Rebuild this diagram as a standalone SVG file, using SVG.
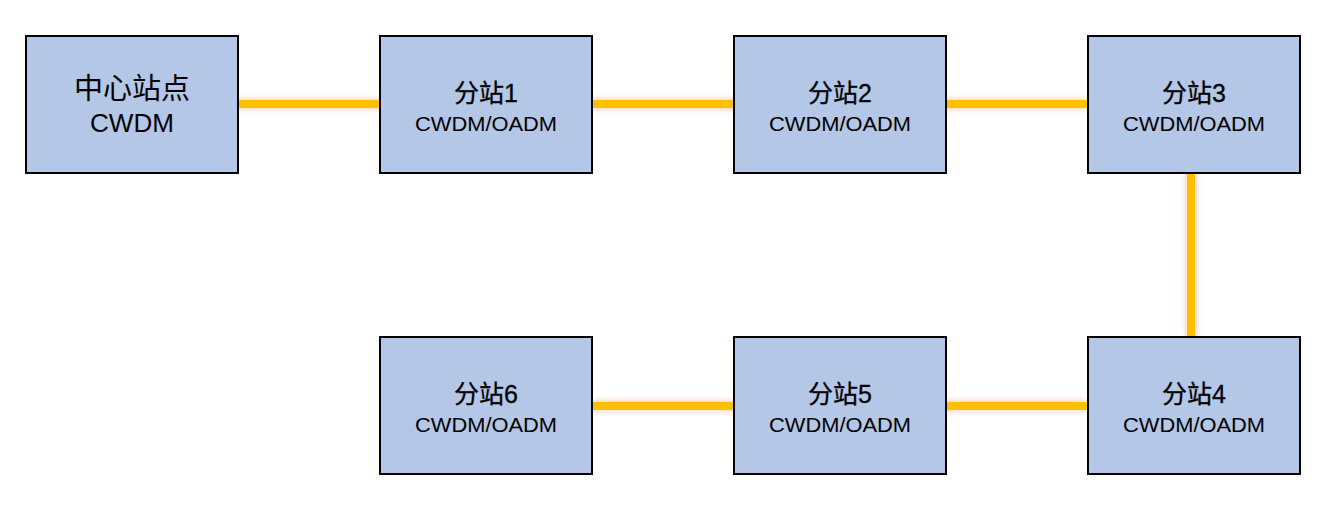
<svg xmlns="http://www.w3.org/2000/svg" width="1332" height="510" viewBox="0 0 1332 510">
<defs>
<filter id="glow" x="-20%" y="-20%" width="140%" height="140%">
<feGaussianBlur stdDeviation="2.5"/>
</filter>
</defs>
<style>
.box{fill:#B4C7E7;stroke:#000;stroke-width:2}
.glow{stroke:#F9B98A;stroke-width:12;fill:none;opacity:0.55;filter:url(#glow)}
.line{stroke:#FFC000;stroke-width:8;fill:none}
.t1{font-family:"Liberation Sans","Noto Sans CJK SC",sans-serif;font-size:29px;fill:#000;text-anchor:middle}
.t2{font-family:"Liberation Sans","Noto Sans CJK SC",sans-serif;font-size:25px;fill:#000;text-anchor:middle}
.t3{font-family:"Liberation Sans","Noto Sans CJK SC",sans-serif;font-size:25px;fill:#000;text-anchor:middle;stroke:#000;stroke-width:0.3}
.t4{font-family:"Liberation Sans","Noto Sans CJK SC",sans-serif;font-size:20px;fill:#000;text-anchor:middle}
</style>
<rect width="1332" height="510" fill="#fff"/>
<g id="connectors">
<g class="glow">
<line x1="238" y1="104" x2="380" y2="104"/>
<line x1="592" y1="104" x2="734" y2="104"/>
<line x1="946" y1="104" x2="1088" y2="104"/>
<line x1="1191" y1="173" x2="1191" y2="337"/>
<line x1="946" y1="406" x2="1088" y2="406"/>
<line x1="592" y1="406" x2="734" y2="406"/>
</g>
<g class="line">
<line x1="238" y1="104" x2="380" y2="104"/>
<line x1="592" y1="104" x2="734" y2="104"/>
<line x1="946" y1="104" x2="1088" y2="104"/>
<line x1="1191" y1="173" x2="1191" y2="337"/>
<line x1="946" y1="406" x2="1088" y2="406"/>
<line x1="592" y1="406" x2="734" y2="406"/>
</g>
</g>
<g id="center">
<rect class="box" x="26" y="36" width="212" height="137"/>
<text class="t1" x="132" y="99">中心站点</text>
<text class="t2" x="132" y="132" textLength="84" lengthAdjust="spacingAndGlyphs">CWDM</text>
</g>
<g id="s1">
<rect class="box" x="380" y="36" width="212" height="137"/>
<text class="t3" x="486" y="102">分站1</text>
<text class="t4" x="486" y="131" textLength="142" lengthAdjust="spacingAndGlyphs">CWDM/OADM</text>
</g>
<g id="s2">
<rect class="box" x="734" y="36" width="212" height="137"/>
<text class="t3" x="840" y="102">分站2</text>
<text class="t4" x="840" y="131" textLength="142" lengthAdjust="spacingAndGlyphs">CWDM/OADM</text>
</g>
<g id="s3">
<rect class="box" x="1088" y="36" width="212" height="137"/>
<text class="t3" x="1194" y="102">分站3</text>
<text class="t4" x="1194" y="131" textLength="142" lengthAdjust="spacingAndGlyphs">CWDM/OADM</text>
</g>
<g id="s4">
<rect class="box" x="1088" y="337" width="212" height="137"/>
<text class="t3" x="1194" y="403">分站4</text>
<text class="t4" x="1194" y="432" textLength="142" lengthAdjust="spacingAndGlyphs">CWDM/OADM</text>
</g>
<g id="s5">
<rect class="box" x="734" y="337" width="212" height="137"/>
<text class="t3" x="840" y="403">分站5</text>
<text class="t4" x="840" y="432" textLength="142" lengthAdjust="spacingAndGlyphs">CWDM/OADM</text>
</g>
<g id="s6">
<rect class="box" x="380" y="337" width="212" height="137"/>
<text class="t3" x="486" y="403">分站6</text>
<text class="t4" x="486" y="432" textLength="142" lengthAdjust="spacingAndGlyphs">CWDM/OADM</text>
</g>
</svg>
